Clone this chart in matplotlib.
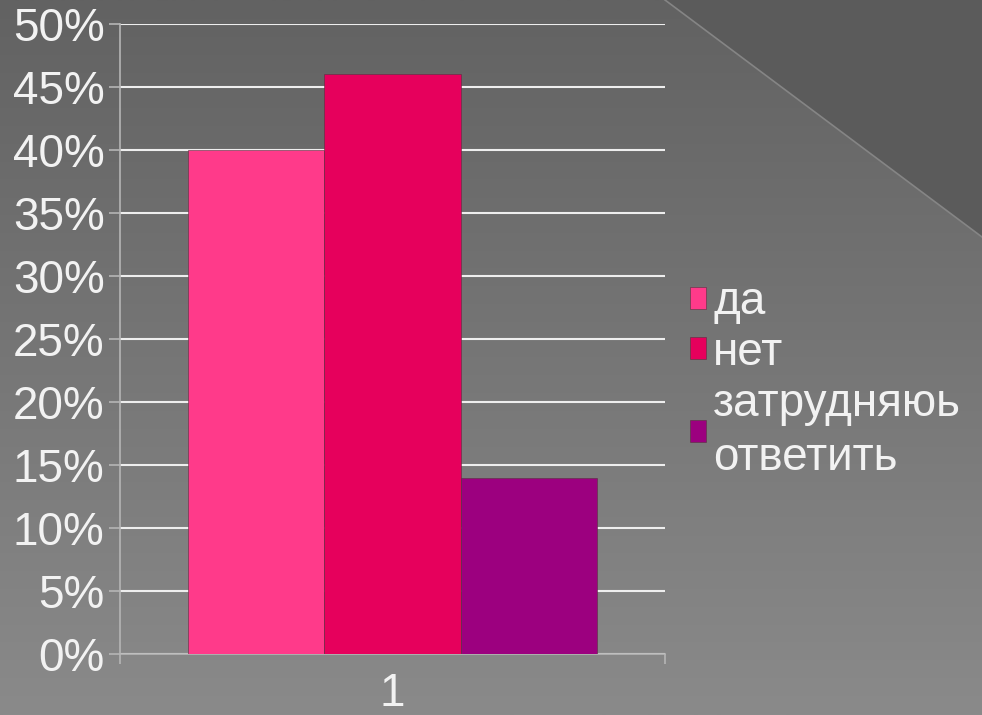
import numpy as np
import matplotlib.pyplot as plt
from matplotlib.patches import Polygon
from matplotlib.colors import LinearSegmentedColormap
from matplotlib.ticker import FuncFormatter

# survey answers, one category
categories = ["1"]
labels = ["да", "нет", "затрудняюь\nответить"]
values = [40, 46, 14]
colors = ["#FF3A8A", "#E6005C", "#9C007F"]
yticks = [0, 5, 10, 15, 20, 25, 30, 35, 40, 45, 50]

plt.rcParams["font.family"] = ["Liberation Sans", "DejaVu Sans"]

W, H = 982, 715
fig = plt.figure(figsize=(W / 100, H / 100), dpi=100)

# gray gradient background with darker corner triangle
bg = fig.add_axes([0, 0, 1, 1], zorder=0)
bg.set_xlim(0, W)
bg.set_ylim(H, 0)
bg.axis("off")
grad = np.linspace(0, 1, 256).reshape(-1, 1)
cmap = LinearSegmentedColormap.from_list("bg", ["#626262", "#8a8a8a"])
bg.imshow(grad, extent=(0, W, H, 0), cmap=cmap, aspect="auto")
bg.add_patch(Polygon([[665, 0], [W, 0], [W, 237]], closed=True,
                     facecolor="#5b5b5b", edgecolor="none"))
bg.plot([665, W], [0, 237], color="#858585", lw=1.2)

ax = fig.add_axes([120 / W, 1 - 654 / H, 545 / W, 630 / H], zorder=1)
ax.patch.set_alpha(0)

width = 0.25
x = np.arange(len(categories))
handles = []
for i, (lab, val, col) in enumerate(zip(labels, values, colors)):
    b = ax.bar(x + (i - 1) * width, [val], width, color=col,
               edgecolor="#5a3040", linewidth=0.4, label=lab, zorder=3)
    handles.append(b)

ax.set_xlim(-0.5, 0.5)
ax.set_ylim(0, 50)
ax.set_yticks(yticks)
ax.yaxis.set_major_formatter(FuncFormatter(lambda v, p: f"{v:.0f}%"))
ax.set_xticks([-0.5, 0.5], minor=True)
ax.set_xticks(x)
ax.set_xticklabels(categories)
ax.tick_params(axis="x", which="major", length=0, pad=13)
ax.tick_params(axis="x", which="minor", length=7, color="#b5b5b5", width=1.2)
ax.tick_params(axis="y", length=8, color="#b5b5b5", width=1.2, pad=3)
ax.tick_params(labelsize=33, labelcolor="#f2f2f2")

ax.grid(axis="y", color="#eeeeee", lw=1.5, zorder=1)
ax.set_axisbelow(True)
for s in ["top", "right"]:
    ax.spines[s].set_visible(False)
for s in ["left", "bottom"]:
    ax.spines[s].set_color("#b5b5b5")
    ax.spines[s].set_linewidth(1.2)

leg = ax.legend(handles=handles, loc="center left", bbox_to_anchor=(1.012, 0.435),
                frameon=False, fontsize=33, handlelength=0.36, handleheight=0.36,
                handletextpad=0.15, labelspacing=0.15, borderaxespad=0)
for t in leg.get_texts():
    t.set_color("#f2f2f2")
    t.set_linespacing(1.3)

fig.savefig("out.png", dpi=100)
